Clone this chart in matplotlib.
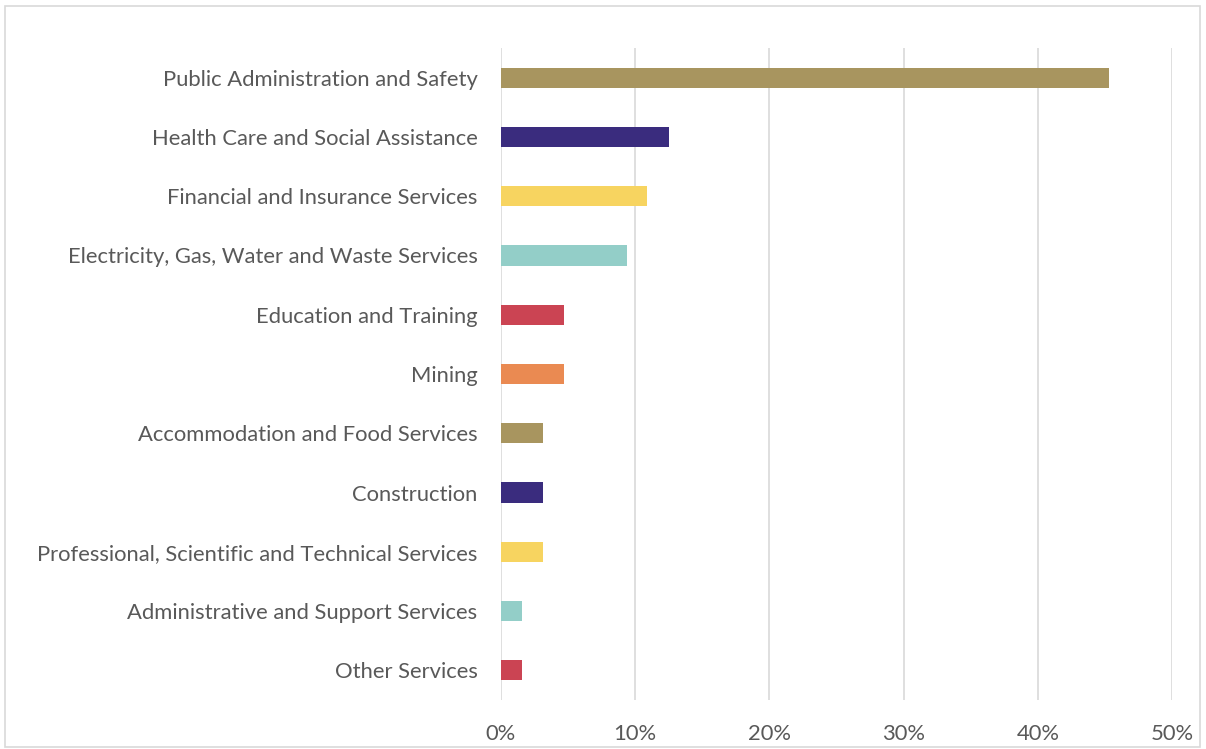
import matplotlib
matplotlib.use("Agg")
import matplotlib.pyplot as plt
from matplotlib.patches import Rectangle

categories = [
    "Public Administration and Safety",
    "Health Care and Social Assistance",
    "Financial and Insurance Services",
    "Electricity, Gas, Water and Waste Services",
    "Education and Training",
    "Mining",
    "Accommodation and Food Services",
    "Construction",
    "Professional, Scientific and Technical Services",
    "Administrative and Support Services",
    "Other Services",
]
values = [45.3, 12.5, 10.9, 9.4, 4.7, 4.7, 3.1, 3.1, 3.1, 1.6, 1.6]
colors = ["#A8955F", "#3A2C7E", "#F7D460", "#93CEC8", "#CB4453", "#EA8A52",
          "#A8955F", "#3A2C7E", "#F7D460", "#93CEC8", "#CB4453"]
xticks = [0, 10, 20, 30, 40, 50]
xticklabels = ["0%", "10%", "20%", "30%", "40%", "50%"]

plt.rcParams['font.family'] = ['Lato', 'DejaVu Sans']
W, H = 1206, 749
fig = plt.figure(figsize=(W/100, H/100), dpi=100)
ax = fig.add_axes([501/W, 1-700/H, (1172-501)/W, (700-48)/H])

y = list(range(len(categories)))
ax.barh(y, values, height=0.34, color=colors, zorder=3)
ax.set_ylim(len(categories)-0.5, -0.5)
ax.set_xlim(0, 50)
ax.set_yticks(y)
ax.set_yticklabels(categories, fontsize=15.8, color="#595959")
ax.set_xticks(xticks)
ax.set_xticklabels(xticklabels, fontsize=15.8, color="#595959")
ax.tick_params(axis='both', length=0)
ax.tick_params(axis='y', pad=17)
ax.tick_params(axis='x', pad=17)
ax.grid(axis='x', color="#D9D9D9", linewidth=1.2, zorder=0)
for s in ax.spines.values():
    s.set_visible(False)

fig.patches.append(Rectangle((5/W, 1-747/H), 1195/W, 741/H, transform=fig.transFigure,
                             fill=False, edgecolor="#D9D9D9", linewidth=1.2))
fig.savefig("out.png", dpi=100)
